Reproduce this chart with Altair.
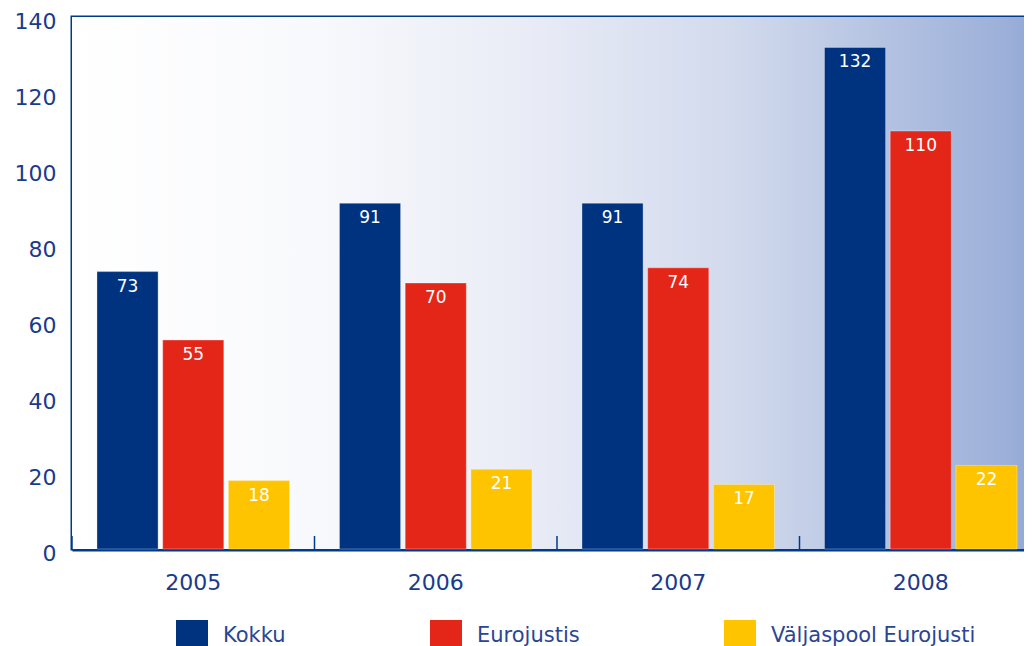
import altair as alt
import pandas as pd

years = ["2005", "2006", "2007", "2008"]
series = ["Kokku", "Eurojustis", "Väljaspool Eurojusti"]
kokku = [73, 91, 91, 132]
eurojustis = [55, 70, 74, 110]
valjaspool = [18, 21, 17, 22]
colors = ["#00337f", "#e42619", "#ffc400"]

rows = []
for i, y in enumerate(years):
    for s, vals in zip(series, [kokku, eurojustis, valjaspool]):
        rows.append({"year": y, "series": s, "value": vals[i]})
df = pd.DataFrame(rows)
tick_df = pd.DataFrame({"year": years})

AXIS_BLUE = "#003a8c"
TEXT_BLUE = "#1a3b8b"
W, H = 970, 532

grad = alt.LinearGradient(
    gradient="linear", x1=0, x2=1, y1=0, y2=0,
    stops=[
        alt.GradientStop(color="#ffffff", offset=0),
        alt.GradientStop(color="#f8f9fc", offset=0.25),
        alt.GradientStop(color="#e9ecf6", offset=0.47),
        alt.GradientStop(color="#d2daed", offset=0.68),
        alt.GradientStop(color="#c5d0e8", offset=0.75),
        alt.GradientStop(color="#9db0d9", offset=0.96),
        alt.GradientStop(color="#8ea6d2", offset=1),
    ],
)

bg = alt.Chart(tick_df).mark_rect(color=grad).encode(
    x=alt.value(0), x2=alt.value("width"), y=alt.value(0), y2=alt.value("height")
)

xscale = alt.Scale(paddingInner=0, paddingOuter=0)
xenc = alt.X("year:N", sort=years, title=None, scale=xscale,
             axis=alt.Axis(labelFontSize=22, labelColor=TEXT_BLUE, labelPadding=23,
                           ticks=False, domainColor=AXIS_BLUE, domainWidth=4,
                           labelAngle=0, grid=False))
yenc = alt.Y("value:Q", title=None,
             scale=alt.Scale(domain=[0, 140]),
             axis=alt.Axis(values=list(range(0, 141, 20)), labelFontSize=22,
                           labelColor=TEXT_BLUE, labelPadding=16, labelOffset=4,
                           ticks=False, domainColor=AXIS_BLUE, domainWidth=3,
                           gridColor=AXIS_BLUE, gridWidth=2))
xoff = alt.XOffset("series:N", sort=series,
                   scale=alt.Scale(paddingInner=0.07, paddingOuter=0.38))

bars = alt.Chart(df).mark_bar(stroke="#ffffff", strokeWidth=0.8, strokeOpacity=0.4).encode(
    x=xenc,
    xOffset=xoff,
    y=yenc,
    color=alt.Color("series:N", sort=series,
                    scale=alt.Scale(domain=series, range=colors),
                    legend=alt.Legend(title=None, orient="none", direction="horizontal",
                                      legendX=104, legendY=603, columns=3,
                                      columnPadding=144, symbolType="square",
                                      symbolSize=1024, symbolStrokeWidth=0,
                                      labelFontSize=21, labelColor="#2a4594",
                                      labelOffset=15, padding=0, labelLimit=400)),
)

labels = alt.Chart(df).mark_text(color="white", fontSize=17, baseline="top", dy=7).encode(
    x=alt.X("year:N", sort=years, scale=xscale),
    xOffset=xoff,
    y="value:Q",
    text="value:Q",
)

ticks = alt.Chart(tick_df).mark_rule(color=AXIS_BLUE, strokeWidth=1.5).encode(
    x=alt.X("year:N", sort=years, bandPosition=0, scale=xscale),
    y=alt.value(H - 13),
    y2=alt.value(H),
)

chart = alt.layer(bg, bars, labels, ticks).properties(
    width=W, height=H, padding={"left": 6, "top": 2, "right": -18, "bottom": 0}
).configure_view(stroke=AXIS_BLUE, strokeWidth=3).configure_axis(
    labelFont="DejaVu Sans"
).configure_legend(labelFont="DejaVu Sans").configure_text(font="DejaVu Sans")

chart.save("out.html", embed_options={"renderer": "svg", "actions": False})
